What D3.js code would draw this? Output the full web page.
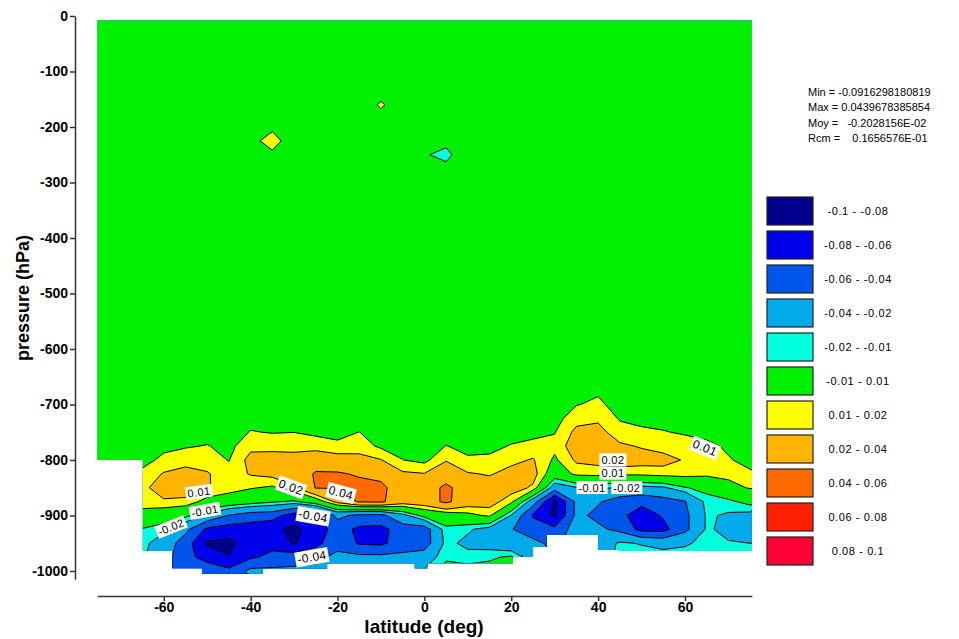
<!DOCTYPE html>
<html>
<head>
<meta charset="utf-8">
<script src="https://cdn.jsdelivr.net/npm/d3@7"></script>
<style>
  body { margin: 0; background: #fff; }
  text { font-family: "Liberation Sans", Arial, Helvetica, sans-serif; }
</style>
</head>
<body>
<svg width="959" height="639"></svg>
<script>
// latitude columns of the grid (deg)
const lats = [-75,-70,-65,-60,-55,-50,-45,-40,-35,-30,-25,-20,-15,-10,-5,0,5,10,15,20,25,30,35,40,45,50,55,60,65,70,75];
// pressure rows of the grid (hPa, negative = down)
const levels = [-8,-50,-100,-125,-160,-200,-225,-250,-275,-300,-400,-500,-600,-650,-700,-725,-750,-775,-800,-825,-850,-875,-900,-925,-950,-975,-1000];

// values, one row per pressure level, one column per latitude
const field = [
  [.002,.002,.002,.002,.002,.002,.002,.002,.002,.002,.002,.002,.002,.002,.002,.002,.002,.002,.002,.002,.002,.002,.002,.002,.002,.002,.002,.002,.002,.002,.002],
  [.002,.002,.002,.002,.002,.002,.002,.002,.002,.002,.002,.002,.002,.002,.002,.002,.002,.002,.002,.002,.002,.002,.002,.002,.002,.002,.002,.002,.002,.002,.002],
  [.002,.002,.002,.002,.002,.002,.002,.002,.002,.002,.002,.002,.002,.002,.002,.002,.002,.002,.002,.002,.002,.002,.002,.002,.002,.002,.002,.002,.002,.002,.002],
  [.003,.003,.003,.003,.003,.003,.003,.003,.003,.003,.003,.003,.003,.003,.003,.003,.003,.003,.003,.003,.003,.003,.003,.003,.003,.003,.003,.003,.003,.003,.003],
  [.003,.003,.003,.003,.003,.003,.003,.003,.003,.003,.003,.003,.003,.0115,.003,.003,.003,.003,.003,.003,.003,.003,.003,.003,.003,.003,.003,.003,.003,.003,.003],
  [.003,.003,.003,.003,.003,.003,.003,.005,.008,.005,.003,.003,.003,.003,.003,.003,.003,.003,.003,.003,.003,.003,.003,.003,.003,.003,.003,.003,.003,.003,.003],
  [.003,.003,.003,.003,.003,.003,.003,.007,.014,.004,.003,.003,.003,.003,.003,0,-.007,0,.003,.003,.003,.003,.003,.003,.003,.003,.003,.003,.003,.003,.003],
  [.002,.002,.002,.002,.002,.002,.002,.005,.008,.004,.002,.002,.002,.002,.002,-.009,-.013,-.002,.002,.002,.002,.002,.002,.002,.002,.002,.002,.002,.002,.002,.002],
  [.002,.002,.002,.002,.002,.002,.002,.002,.002,.002,.002,.002,.002,.002,.002,0,-.007,0,.002,.002,.002,.002,.002,.002,.002,.002,.002,.002,.002,.002,.002],
  [.002,.002,.002,.002,.002,.002,.002,.002,.002,.002,.002,.002,.002,.002,.002,.002,.002,.002,.002,.002,.002,.002,.002,.002,.002,.002,.002,.002,.002,.002,.002],
  [.002,.002,.002,.002,.002,.002,.002,.002,.002,.002,.002,.002,.002,.002,.002,.002,.002,.002,.002,.002,.002,.002,.002,.002,.002,.002,.002,.002,.002,.002,.002],
  [.002,.002,.002,.002,.002,.002,.002,.002,.002,.002,.002,.002,.002,.002,.002,.002,.002,.002,.002,.002,.002,.002,.002,.002,.002,.002,.002,.002,.002,.002,.002],
  [.003,.003,.003,.003,.003,.003,.003,.003,.003,.003,.003,.003,.003,.003,.003,.003,.003,.003,.003,.003,.003,.003,.003,.003,.003,.003,.003,.003,.003,.003,.003],
  [.003,.003,.003,.003,.003,.003,.003,.003,.003,.003,.003,.003,.003,.003,.003,.003,.003,.003,.003,.003,.003,.003,.004,.005,.003,.003,.003,.003,.003,.003,.003],
  [.003,.003,.003,.003,.003,.003,.003,.004,.005,.005,.004,.004,.004,.003,.003,.003,.003,.003,.003,.003,.004,.004,.0095,.012,.006,.005,.005,.005,.004,.004,.004],
  [.003,.003,.004,.004,.004,.004,.004,.007,.007,.007,.006,.006,.006,.005,.004,.004,.005,.004,.004,.005,.006,.006,.016,.018,.009,.007,.007,.007,.006,.005,.005],
  [.004,.004,.005,.005,.006,.006,.005,.0105,.0095,.0099,.008,.008,.0101,.007,.006,.005,.007,.006,.006,.007,.007,.0095,.023,.024,.014,.012,.0105,.009,.008,.007,.006],
  [.004,.004,.006,.008,.009,.0105,.007,.017,.016,.016,.015,.0115,.015,.008,.008,.006,.0102,.008,.008,.0105,.013,.013,.027,.027,.022,.019,.016,.014,.0115,.009,.007],
  [.004,.004,.007,.012,.016,.015,.0095,.024,.026,.025,.03,.027,.024,.0205,.0101,.007,.019,.011,.0115,.017,.021,.008,.022,.024,.028,.025,.024,.019,.015,.0105,.008],
  [.012,.012,.012,.021,.024,.021,.014,.021,.024,.028,.042,.042,.038,.035,.022,.0205,.03,.021,.019,.024,.025,0,.013,.014,.012,.013,.015,.015,.013,.013,.011],
  [.016,.016,.016,.028,.027,.021,.015,.011,.008,.018,.041,.041,.046,.044,.03,.03,.044,.03,.026,.026,.018,-.03,-.021,-.018,-.021,-.024,-.022,-.011,-.005,.006,.011],
  [.015,.015,.015,.018,.017,.005,.002,-.003,-.008,-.012,0,.025,.042,.043,.028,.03,.044,.028,.026,.013,-.03,-.085,-.035,-.038,-.05,-.055,-.048,-.041,-.016,-.013,-.005],
  [.005,.005,.005,0,-.006,-.024,-.041,-.05,-.052,-.07,-.068,-.035,-.045,-.045,-.025,-.005,0,.006,.012,-.021,-.062,-.083,-.035,-.045,-.055,-.07,-.058,-.045,-.018,-.022,-.025],
  [-.011,-.011,-.011,-.017,-.035,-.064,-.07,-.07,-.075,-.085,-.07,-.052,-.064,-.066,-.05,-.05,-.013,-.018,-.026,-.039,-.05,-.055,-.03,-.036,-.045,-.066,-.066,-.045,-.018,-.024,-.026],
  [-.016,-.016,-.016,-.028,-.05,-.083,-.085,-.07,-.066,-.082,-.066,-.047,-.062,-.064,-.05,-.05,-.016,-.024,-.027,-.035,-.035,-.045,-.03,-.03,-.018,-.021,-.025,-.022,-.016,-.019,-.02],
  [-.018,-.018,-.018,-.03,-.055,-.066,-.079,-.063,-.055,-.05,-.045,-.035,-.035,-.035,-.035,-.03,-.012,-.015,-.012,-.008,-.03,-.04,-.03,-.03,-.015,-.014,-.014,-.014,-.013,-.014,-.014],
  [-.018,-.018,-.018,-.03,-.055,-.05,-.055,-.035,-.035,-.035,-.035,-.03,-.03,-.03,-.03,-.018,-.005,-.005,-.005,0,-.03,-.04,-.03,-.03,-.015,-.014,-.014,-.014,-.013,-.013,-.014]
];

// colour classes
const thresholds = [-0.1,-0.08,-0.06,-0.04,-0.02,-0.01,0.01,0.02,0.04,0.06,0.08];
const bandColors = ["#00008c","#0000eb","#0055eb","#00aaeb","#00ffdc","#00f000","#ffff00","#ffb400","#ff6a00","#ff2000","#ff0035"];
const legendLabels = ["-0.1 - -0.08","-0.08 - -0.06","-0.06 - -0.04","-0.04 - -0.02","-0.02 - -0.01","-0.01 - 0.01","0.01 - 0.02","0.02 - 0.04","0.04 - 0.06","0.06 - 0.08","0.08 - 0.1"];

// where the data stops (ground / missing values)
const groundEdges = [-75.3,-64.8,-58,-51.2,-37.2,-22.4,-2.2,0.8,20.4,25,28.2,40,44.6,75.4];
const groundP = [-800,-964,-995,-1005,-996,-986,-995,-986,-975,-957,-935,-962,-964];
const topP = -8.5;

// labels sitting on the contour lines
const labelText = ["-0.02","0.01","-0.01","0.02","0.04","-0.04","-0.04","-0.01","-0.02","0.02","0.01","0.01"];
const labelLat = [-58.3,-51.9,-50.5,-30.7,-19.2,-25.6,-25.9,38.6,46.6,43.4,43.4,64.6];
const labelP = [-921,-858,-892,-849,-859,-901,-975,-850,-850,-800,-824,-778];
const labelAngle = [-22,-8,-10,20,15,10,-10,0,0,0,0,22];
const labelSize = [11,11,11,12,12,12,12,11,11,11,11,12];

const stats = ["Min = -0.0916298180819","Max = 0.0439678385854","Moy =   -0.2028156E-02","Rcm =    0.1656576E-01"];

const svg = d3.select('svg');

const x = d3.scaleLinear().domain([-75.3, 75.4]).range([97.3, 751.9]);
const y = d3.scaleLinear().domain([0, -1015]).range([16, 579.3]);

// grid index -> lat / pressure (piecewise)
const latOfIdx = d3.scaleLinear().domain(d3.range(lats.length)).range(lats);
const presOfIdx = d3.scaleLinear().domain(d3.range(levels.length)).range(levels);

const proj = d3.geoTransform({
  point: function(gx, gy) {
    this.stream.point(x(latOfIdx(gx - 0.5)), y(presOfIdx(gy - 0.5)));
  }
});
const path = d3.geoPath(proj);

const contours = d3.contours()
  .size([lats.length, levels.length])
  .thresholds(thresholds)(field.flat());

// clip to where data exists
const clipPts = [[groundEdges[0], topP], [groundEdges[groundEdges.length - 1], topP]];
for (let i = groundP.length - 1; i >= 0; i--) {
  clipPts.push([groundEdges[i + 1], groundP[i]]);
  clipPts.push([groundEdges[i], groundP[i]]);
}
svg.append('defs').append('clipPath').attr('id', 'dataclip')
  .append('path')
  .attr('d', d3.line().x(d => x(d[0])).y(d => y(d[1]))(clipPts) + 'Z');

const plot = svg.append('g').attr('clip-path', 'url(#dataclip)');

plot.selectAll('path.band').data(contours)
  .enter().append('path')
  .attr('class', 'band')
  .attr('d', path)
  .attr('fill', (d, i) => bandColors[i])
  .attr('stroke', 'none');

plot.selectAll('path.line').data(contours.slice(1))
  .enter().append('path')
  .attr('class', 'line')
  .attr('d', path)
  .attr('fill', 'none')
  .attr('stroke', '#000')
  .attr('stroke-width', 1);

// contour labels
labelText.forEach((t, i) => {
  const g = svg.append('g')
    .attr('transform', `translate(${x(labelLat[i])},${y(labelP[i])}) rotate(${labelAngle[i]})`);
  const txt = g.append('text')
    .attr('text-anchor', 'middle')
    .attr('dy', '0.35em')
    .style('font-size', labelSize[i] + 'px')
    .style('letter-spacing', '0.4px')
    .attr('fill', '#000')
    .text(t);
  const bb = txt.node().getBBox();
  g.insert('rect', 'text')
    .attr('x', bb.x - 2).attr('y', bb.y - 0.5)
    .attr('width', bb.width + 4).attr('height', bb.height + 1)
    .attr('fill', '#fff');
});

// axes
const yAxis = d3.axisLeft(y)
  .tickValues(d3.range(0, -1001, -100))
  .tickFormat(d => String(d))
  .tickSize(5).tickSizeOuter(0).tickPadding(2);
const xAxis = d3.axisBottom(x)
  .tickValues([-60,-40,-20,0,20,40,60])
  .tickFormat(d => String(d))
  .tickSize(5).tickSizeOuter(0).tickPadding(1);

const gy = svg.append('g').attr('transform', 'translate(75,0)').call(yAxis);
const gx = svg.append('g').attr('transform', 'translate(0,596)').call(xAxis);
[gx, gy].forEach(g => {
  g.select('.domain').attr('stroke', '#333').attr('stroke-width', 1.5);
  g.selectAll('.tick line').attr('stroke', '#333').attr('stroke-width', 1.5);
  g.selectAll('.tick text')
    .style('font-family', '"Liberation Sans", Arial, sans-serif')
    .style('font-size', '14px').style('font-weight', 'bold').attr('fill', '#000');
});

svg.append('text')
  .attr('x', 424).attr('y', 633)
  .attr('text-anchor', 'middle')
  .style('font-size', '19px').style('font-weight', 'bold')
  .text('latitude (deg)');

svg.append('text')
  .attr('transform', 'translate(29,298) rotate(-90)')
  .attr('text-anchor', 'middle')
  .style('font-size', '18px').style('font-weight', 'bold')
  .text('pressure (hPa)');

// statistics
svg.selectAll('text.stat').data(stats)
  .enter().append('text')
  .attr('class', 'stat')
  .attr('x', 808).attr('y', (d, i) => 96 + i * 15.3)
  .style('font-size', '11px')
  .style('white-space', 'pre')
  .text(d => d);

// legend
const leg = svg.append('g');
leg.selectAll('rect').data(bandColors)
  .enter().append('rect')
  .attr('x', 767).attr('y', (d, i) => 197 + i * 34)
  .attr('width', 46).attr('height', 28)
  .attr('fill', d => d)
  .attr('stroke', '#222').attr('stroke-width', 1.2);
leg.selectAll('text').data(legendLabels)
  .enter().append('text')
  .attr('x', 858).attr('y', (d, i) => 215 + i * 34)
  .attr('text-anchor', 'middle')
  .style('font-size', '11px')
  .style('letter-spacing', '0.6px')
  .text(d => d);
</script>
</body>
</html>
